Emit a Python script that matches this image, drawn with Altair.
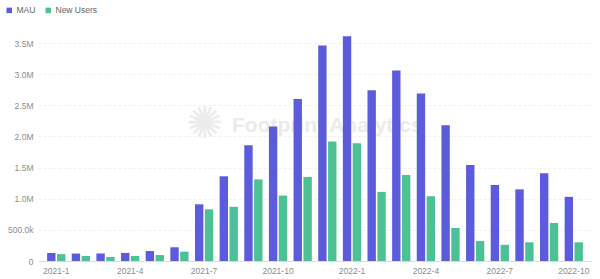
import altair as alt
import pandas as pd

months = ["2021-1","2021-2","2021-3","2021-4","2021-5","2021-6","2021-7","2021-8","2021-9","2021-10","2021-11","2021-12",
          "2022-1","2022-2","2022-3","2022-4","2022-5","2022-6","2022-7","2022-8","2022-9","2022-10"]
mau_m = [0.13,0.12,0.12,0.13,0.16,0.22,0.91,1.36,1.86,2.16,2.60,3.46,3.61,2.74,3.06,2.69,2.18,1.54,1.22,1.15,1.41,1.03]
new_m = [0.11,0.08,0.065,0.08,0.095,0.15,0.83,0.87,1.31,1.05,1.35,1.92,1.89,1.11,1.38,1.04,0.53,0.32,0.26,0.30,0.61,0.30]
series = ["MAU", "New Users"]
colors = ["#5b5bdb", "#4cc194"]
tick_months = ["2021-1","2021-4","2021-7","2021-10","2022-1","2022-4","2022-7","2022-10"]
y_ticks = [0, 500000, 1000000, 1500000, 2000000, 2500000, 3000000, 3500000]

rows = []
for m, a, b in zip(months, mau_m, new_m):
    rows.append({"month": m, "series": series[0], "value": a * 1e6})
    rows.append({"month": m, "series": series[1], "value": b * 1e6})
df = pd.DataFrame(rows)

FONT = "Liberation Sans"

bars = alt.Chart(df).mark_bar().encode(
    x=alt.X("month:N", sort=months,
            scale=alt.Scale(paddingInner=0.26, paddingOuter=0.37),
            axis=alt.Axis(title=None, values=tick_months, labelAngle=0, ticks=False,
                          domainColor="#dcdcdc", labelColor="#8c8c8c", labelFontSize=8.5,
                          labelFont=FONT, labelPadding=5, grid=False)),
    xOffset=alt.XOffset("series:N", sort=series, scale=alt.Scale(paddingInner=0.15)),
    y=alt.Y("value:Q",
            scale=alt.Scale(domain=[0, 3500000], nice=False),
            axis=alt.Axis(title=None, values=y_ticks, domain=False, ticks=False,
                          labelExpr="datum.value == 0 ? '0' : (datum.value < 1000000 ? format(datum.value/1000, '.1f') + 'k' : format(datum.value/1000000, '.1f') + 'M')",
                          labelColor="#8c8c8c", labelFontSize=8.5, labelFont=FONT, labelPadding=5,
                          gridColor="#f0f0f0", gridDash=[3, 2])),
    color=alt.Color("series:N", sort=series,
                    scale=alt.Scale(domain=series, range=colors),
                    legend=alt.Legend(title=None, orient="none", direction="horizontal",
                                      legendX=-33, legendY=-37, symbolType="square",
                                      symbolSize=30, labelFontSize=8.5, labelFont=FONT,
                                      labelColor="#666666", columnPadding=8, labelOffset=3)),
)

wm_text = alt.Chart(pd.DataFrame({"t": ["Footprint Analytics"]})).mark_text(
    font=FONT, fontSize=21, fontWeight="bold", color="#ebebeb", align="left", baseline="middle"
).encode(text="t:N", x=alt.value(194), y=alt.value(83))

wm_logo = alt.Chart(pd.DataFrame({"t": ["✺"]})).mark_text(
    font="DejaVu Sans", fontSize=44, color="#ececec", align="center", baseline="middle"
).encode(text="t:N", x=alt.value(167), y=alt.value(82))

chart = alt.layer(wm_logo, wm_text, bars).properties(
    width=554, height=218,
    autosize=alt.AutoSizeParams(type="none"),
    padding={"left": 38, "top": 43, "right": 8, "bottom": 18},
).configure_view(stroke=None)

chart.save("out.html", embed_options={"renderer": "svg", "actions": False})
